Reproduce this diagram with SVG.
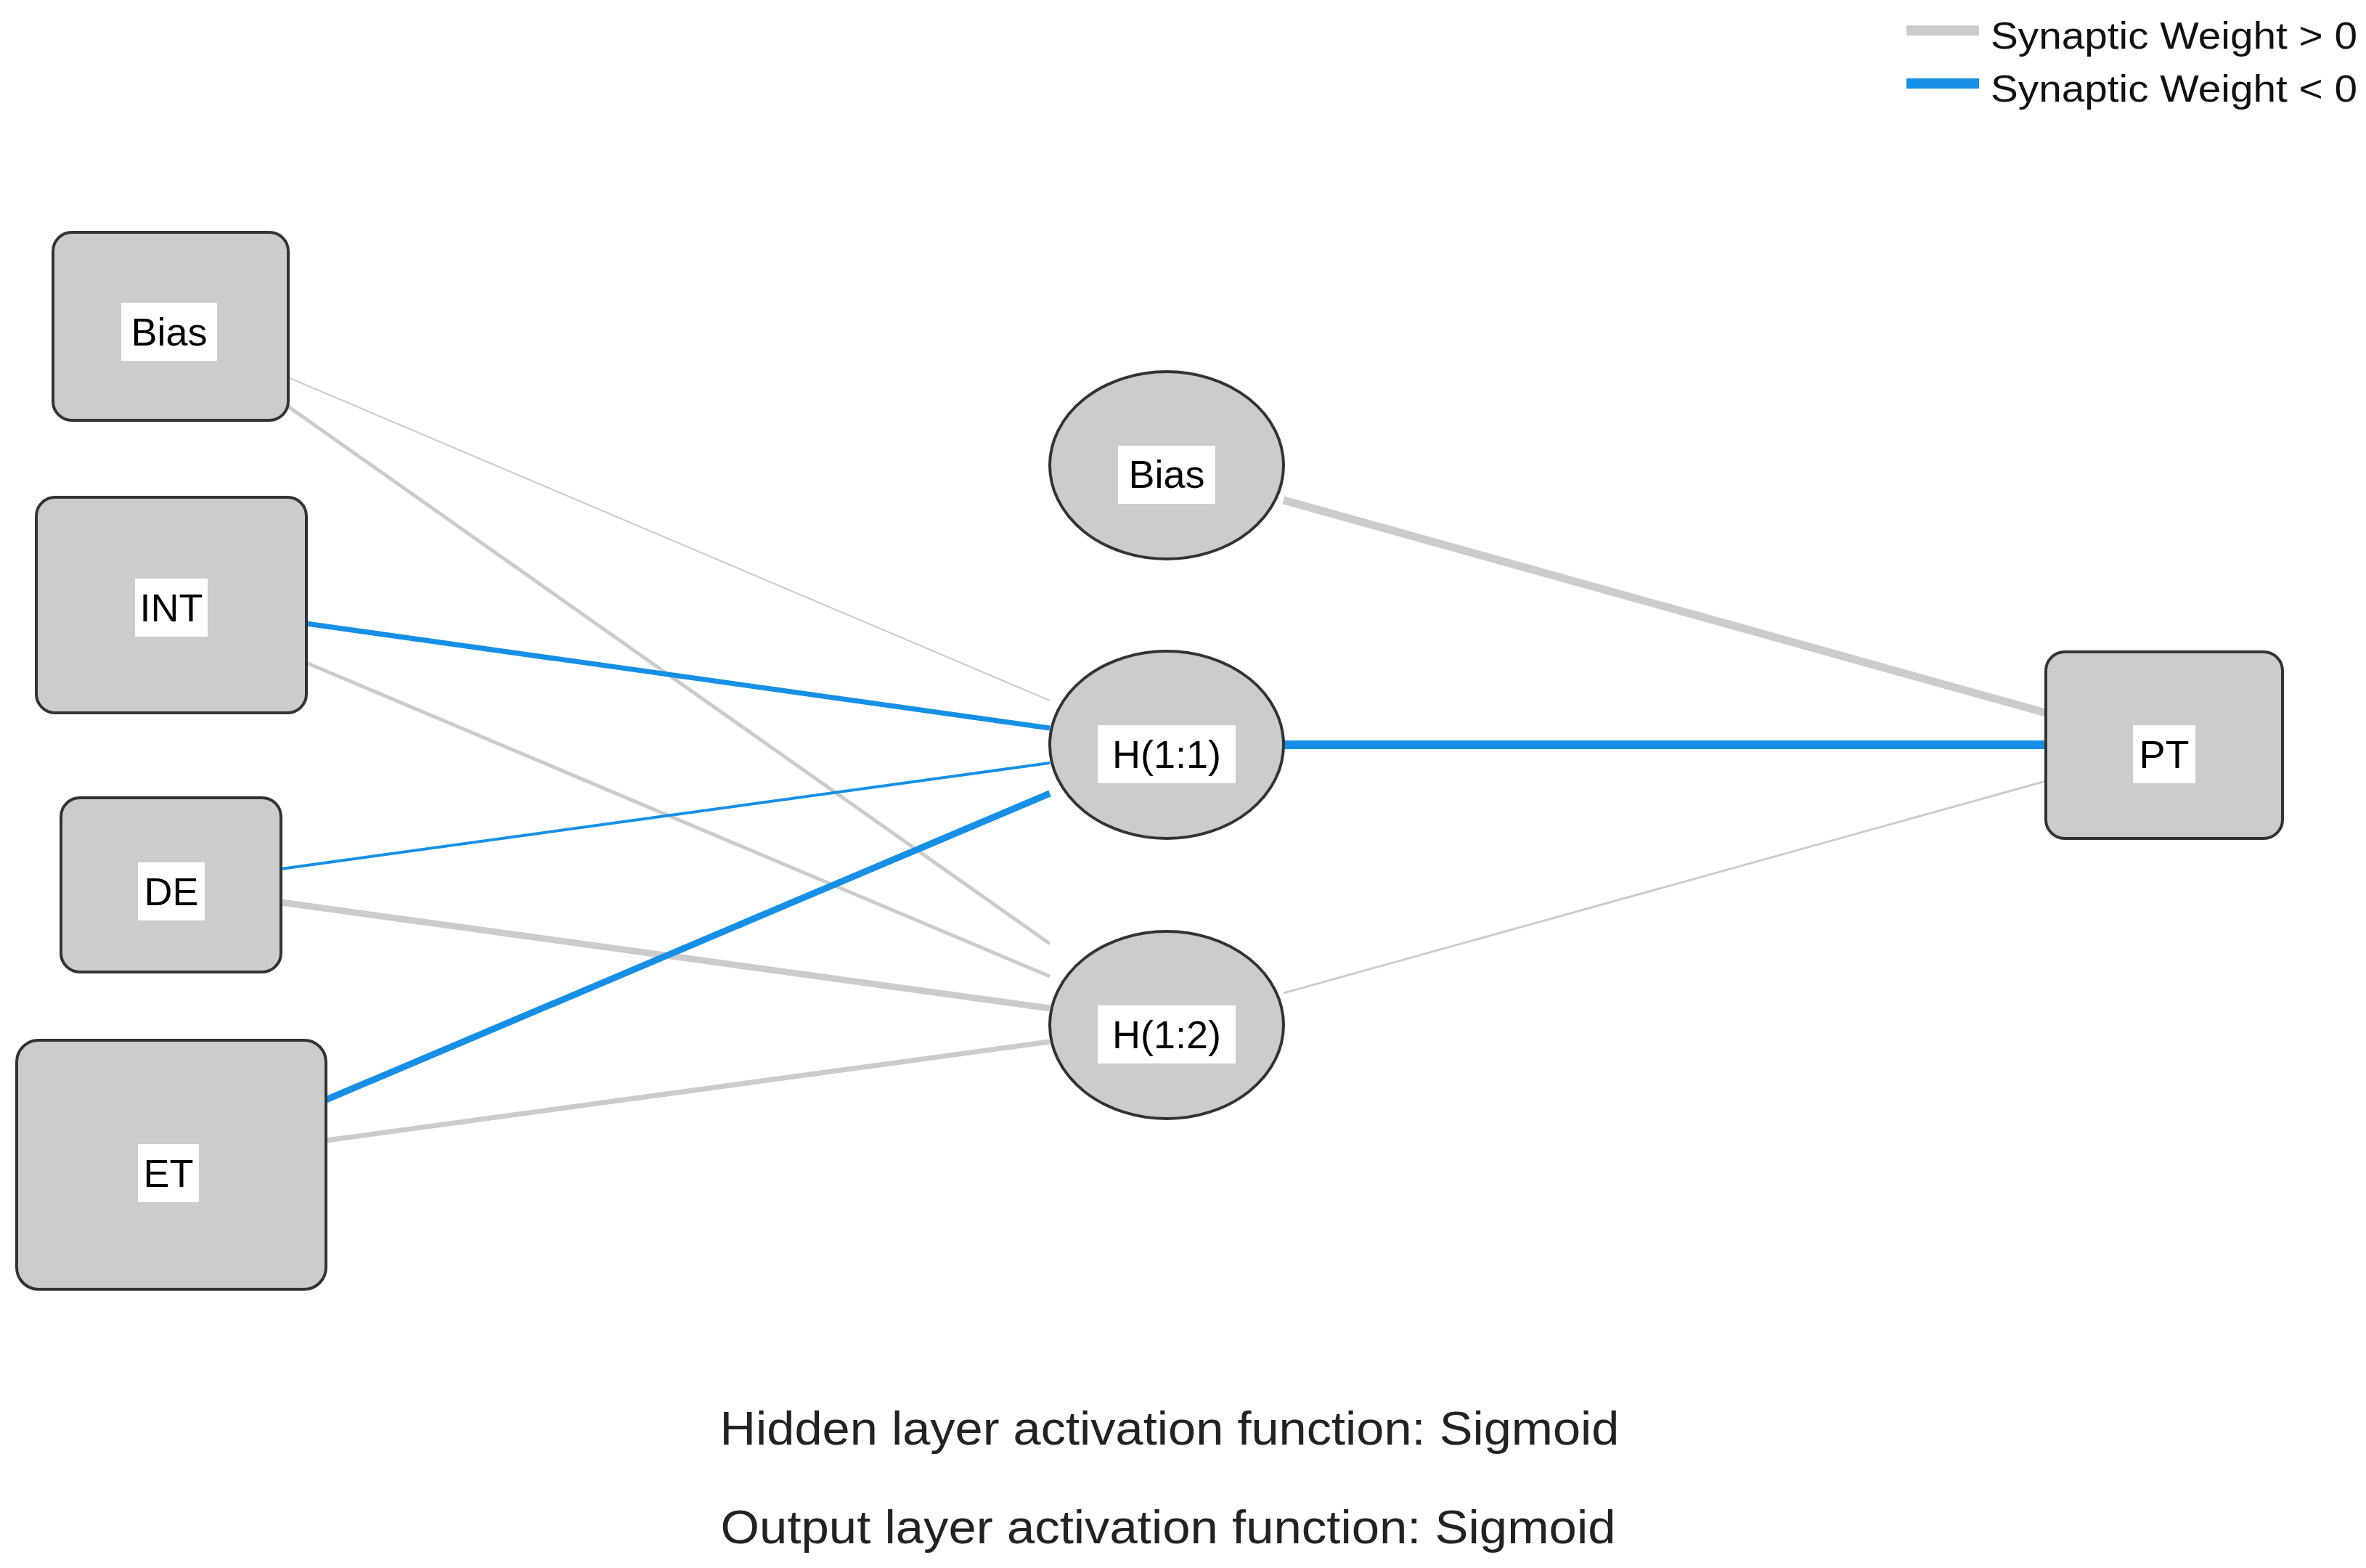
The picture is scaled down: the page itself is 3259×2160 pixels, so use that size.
<svg xmlns="http://www.w3.org/2000/svg" width="3259" height="2160" viewBox="0 0 3259 2160">
<style>
.n{fill:#cccccc;stroke:#333;stroke-width:4}
.lb{fill:#fff}
.t{font-family:"Liberation Sans",Arial,sans-serif;font-size:54px;fill:#000;text-anchor:middle}
.g{stroke:#cccccc;fill:none}
.b{stroke:#168fe6;fill:none}
.cap{font-family:"Liberation Sans",Arial,sans-serif;font-size:64px;fill:#222;text-anchor:middle}
.leg{font-family:"Liberation Sans",Arial,sans-serif;font-size:52px;fill:#111}
</style>
<rect width="3259" height="2160" fill="#fff"/>
<g id="connectors">
<line class="g" x1="397" y1="520" x2="1446" y2="965" stroke-width="2"/>
<line class="g" x1="397" y1="560" x2="1446" y2="1300" stroke-width="5"/>
<line class="g" x1="422" y1="913" x2="1446" y2="1345" stroke-width="5"/>
<line class="g" x1="387" y1="1243" x2="1446" y2="1389" stroke-width="9"/>
<line class="g" x1="449" y1="1571" x2="1446" y2="1435" stroke-width="7"/>
<line class="b" x1="422" y1="859" x2="1446" y2="1003" stroke-width="7"/>
<line class="b" x1="387" y1="1197" x2="1446" y2="1051" stroke-width="4"/>
<line class="b" x1="449" y1="1515" x2="1446" y2="1093" stroke-width="9"/>
<line class="g" x1="1768" y1="689" x2="2818" y2="982" stroke-width="11"/>
<line class="b" x1="1768" y1="1026" x2="2818" y2="1026" stroke-width="12"/>
<line class="g" x1="1768" y1="1368" x2="2818" y2="1076" stroke-width="3"/>
</g>
<g id="in_bias"><rect class="n" x="73" y="320" width="324" height="259" rx="26"/><rect class="lb" x="167" y="417" width="132" height="80"/><text class="t" x="233" y="476">Bias</text></g>
<g id="in_int"><rect class="n" x="50" y="685" width="372" height="297" rx="26"/><rect class="lb" x="186" y="797" width="100" height="80"/><text class="t" x="236" y="856">INT</text></g>
<g id="in_de"><rect class="n" x="84" y="1099" width="303" height="240" rx="26"/><rect class="lb" x="190" y="1188" width="92" height="80"/><text class="t" x="236" y="1247">DE</text></g>
<g id="in_et"><rect class="n" x="23" y="1433" width="426" height="343" rx="30"/><rect class="lb" x="190" y="1576" width="84" height="80"/><text class="t" x="232" y="1635">ET</text></g>
<g id="h_bias"><ellipse class="n" cx="1607" cy="641" rx="161" ry="129"/><rect class="lb" x="1540" y="614" width="134" height="80"/><text class="t" x="1607" y="672">Bias</text></g>
<g id="h11"><ellipse class="n" cx="1607" cy="1026" rx="161" ry="129"/><rect class="lb" x="1512" y="999" width="190" height="80"/><text class="t" x="1607" y="1058">H(1:1)</text></g>
<g id="h12"><ellipse class="n" cx="1607" cy="1412" rx="161" ry="129"/><rect class="lb" x="1512" y="1385" width="190" height="80"/><text class="t" x="1607" y="1444">H(1:2)</text></g>
<g id="out_pt"><rect class="n" x="2818" y="898" width="326" height="257" rx="26"/><rect class="lb" x="2938" y="999" width="86" height="80"/><text class="t" x="2981" y="1058">PT</text></g>
<g id="legend">
<line x1="2626" y1="42" x2="2726" y2="42" stroke="#cccccc" stroke-width="14"/>
<line x1="2626" y1="115" x2="2726" y2="115" stroke="#168fe6" stroke-width="14"/>
<text class="leg" x="2742" y="67" textLength="505" lengthAdjust="spacingAndGlyphs">Synaptic Weight &gt; 0</text>
<text class="leg" x="2742" y="140" textLength="505" lengthAdjust="spacingAndGlyphs">Synaptic Weight &lt; 0</text>
</g>
<text class="cap" x="1611" y="1990" textLength="1239" lengthAdjust="spacingAndGlyphs">Hidden layer activation function: Sigmoid</text>
<text class="cap" x="1609" y="2126" textLength="1233" lengthAdjust="spacingAndGlyphs">Output layer activation function: Sigmoid</text>
</svg>
